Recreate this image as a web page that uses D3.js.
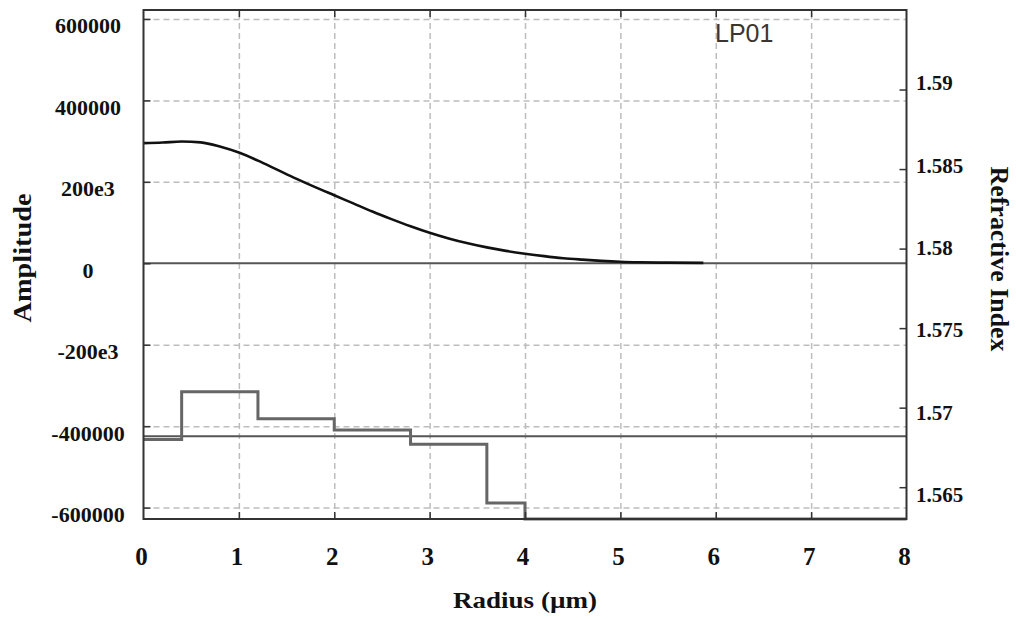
<!DOCTYPE html>
<html><head><meta charset="utf-8">
<script src="https://cdn.jsdelivr.net/npm/d3@7"></script>
<style>body{margin:0;background:#fff} svg{display:block}</style>
</head><body><svg id="c" width="1016" height="619"></svg>
<script>
// ---- data ----
const radius    = [0, 0.2, 0.4, 0.6, 0.8, 1.0, 1.2, 1.4, 1.6, 1.8, 2.0, 2.2, 2.4, 2.6, 2.8, 3.0, 3.2, 3.4, 3.6, 3.8, 4.0, 4.2, 4.4, 4.6, 4.8, 5.0, 5.2, 5.5, 5.87];
const amplitude = [295000, 296500, 299000, 297000, 287000, 272000, 252000, 230000, 208000, 187000, 167000, 147000, 127000, 108500, 91000, 75000, 61000, 49000, 39000, 30500, 23500, 17500, 12500, 9000, 6000, 3800, 2500, 1500, 1000];
const stepRadius = [0, 0.4, 1.2, 2.0, 2.8, 3.6, 4.0, 8];
const stepIndex  = [1.568, 1.571, 1.5693, 1.5686, 1.5677, 1.564, 1.563, 1.563];
const neffIndex = 1.5682;
const xTicks = [0, 1, 2, 3, 4, 5, 6, 7, 8];
const ampTicks = [600000, 400000, 200000, 0, -200000, -400000, -600000];
const ampTickLabels = ["600000", "400000", "200e3", "0", "-200e3", "-400000", "-600000"];
const riTicks = [1.59, 1.585, 1.58, 1.575, 1.57, 1.565];
const riTickLabels = ["1.59", "1.585", "1.58", "1.575", "1.57", "1.565"];
const modeLabel = "LP01";
const xTitle = "Radius (µm)", yLTitle = "Amplitude", yRTitle = "Refractive Index";

// ---- layout ----
const L = 143.5, R = 906.5, T = 10, B = 519;
const svg = d3.select("#c");
const x  = d3.scaleLinear().domain([0, 8]).range([L, R]);
const yL = d3.scaleLinear().domain([-628000, 622000]).range([B, T]);
const yR = d3.scaleLinear().domain([1.563, 1.595]).range([B, T]);
const serif = "'Liberation Serif','Times New Roman',serif";

// grid
const inner = xTicks.filter(d => d > 0 && d < 8);
svg.append("g").attr("transform", `translate(0,${B})`)
  .call(d3.axisBottom(x).tickValues(inner).tickSize(-(B - T)).tickFormat(""))
  .call(g => g.select(".domain").remove())
  .selectAll("line").attr("stroke", "#bdbdbd").attr("stroke-width", 1.5).attr("stroke-dasharray", "6,4");
svg.append("g").attr("transform", `translate(${L},0)`)
  .call(d3.axisLeft(yL).tickValues(ampTicks.filter(d => d !== 0)).tickSize(-(R - L)).tickFormat(""))
  .call(g => g.select(".domain").remove())
  .selectAll("line").attr("stroke", "#bdbdbd").attr("stroke-width", 1.5).attr("stroke-dasharray", "6,4");

// zero line & neff line
svg.append("line").attr("x1", L).attr("x2", R).attr("y1", yL(0)).attr("y2", yL(0))
  .attr("stroke", "#555").attr("stroke-width", 2);
svg.append("line").attr("x1", L).attr("x2", R).attr("y1", yR(neffIndex)).attr("y2", yR(neffIndex))
  .attr("stroke", "#555").attr("stroke-width", 2);

// index profile
const stepData = stepRadius.map((r, i) => [r, stepIndex[i]]);
svg.append("path").datum(stepData)
  .attr("d", d3.line().x(d => x(d[0])).y(d => yR(d[1])).curve(d3.curveStepAfter))
  .attr("fill", "none").attr("stroke", "#666").attr("stroke-width", 3);

// amplitude curve
const ampData = radius.map((r, i) => [r, amplitude[i]]);
svg.append("path").datum(ampData)
  .attr("d", d3.line().x(d => x(d[0])).y(d => yL(d[1])).curve(d3.curveMonotoneX))
  .attr("fill", "none").attr("stroke", "#111").attr("stroke-width", 2.6);

// frame
svg.append("rect").attr("x", L).attr("y", T).attr("width", R - L).attr("height", B - T)
  .attr("fill", "none").attr("stroke", "#333").attr("stroke-width", 2);

// inward ticks
function ticks(axis, tr) {
  svg.append("g").attr("transform", tr).call(axis)
    .call(g => g.select(".domain").remove())
    .selectAll("line").attr("stroke", "#333").attr("stroke-width", 1.5);
}
ticks(d3.axisBottom(x).tickValues(inner).tickSize(-7).tickFormat(""), `translate(0,${B})`);
ticks(d3.axisTop(x).tickValues(inner).tickSize(-7).tickFormat(""), `translate(0,${T})`);
ticks(d3.axisLeft(yL).tickValues(ampTicks).tickSize(-7).tickFormat(""), `translate(${L},0)`);
ticks(d3.axisRight(yR).tickValues(riTicks).tickSize(-7).tickFormat(""), `translate(${R},0)`);

// tick labels
svg.append("g").selectAll("text").data(ampTicks).join("text")
  .attr("x", 88).attr("y", d => yL(d) + 7).attr("dominant-baseline", "central")
  .attr("text-anchor", "middle").attr("font-family", serif).attr("font-weight", "bold")
  .attr("font-size", 22).attr("fill", "#111").text((d, i) => ampTickLabels[i]);
svg.append("g").selectAll("text").data(riTicks).join("text")
  .attr("x", 916).attr("y", d => yR(d) * 1.035 - 9.4).attr("dominant-baseline", "central")
  .attr("font-family", serif).attr("font-weight", "bold")
  .attr("font-size", 21).attr("fill", "#111").text((d, i) => riTickLabels[i]);
svg.append("g").selectAll("text").data(xTicks).join("text")
  .attr("x", d => x(d) - 2).attr("y", 565).attr("text-anchor", "middle")
  .attr("font-family", serif).attr("font-weight", "bold")
  .attr("font-size", 25).attr("fill", "#111").text(d => d);

// titles
svg.append("text").attr("x", 525).attr("y", 608).attr("text-anchor", "middle")
  .attr("font-family", serif).attr("font-weight", "bold").attr("font-size", 24).attr("fill", "#111")
  .attr("textLength", 144).attr("lengthAdjust", "spacingAndGlyphs").text(xTitle);
svg.append("text").attr("transform", "translate(22,258) rotate(-90)")
  .attr("text-anchor", "middle").attr("dominant-baseline", "central")
  .attr("font-family", serif).attr("font-weight", "bold").attr("font-size", 26).attr("fill", "#111")
  .attr("textLength", 129).attr("lengthAdjust", "spacingAndGlyphs").text(yLTitle);
svg.append("text").attr("transform", "translate(999,259) rotate(90)")
  .attr("text-anchor", "middle").attr("dominant-baseline", "central")
  .attr("font-family", serif).attr("font-weight", "bold").attr("font-size", 25).attr("fill", "#111")
  .attr("textLength", 185).attr("lengthAdjust", "spacingAndGlyphs").text(yRTitle);

// mode label
svg.append("text").attr("x", 715).attr("y", 42)
  .attr("font-family", "'Liberation Sans',Arial,sans-serif").attr("font-size", 25).attr("fill", "#3a3530")
  .text(modeLabel);
</script></body></html>
